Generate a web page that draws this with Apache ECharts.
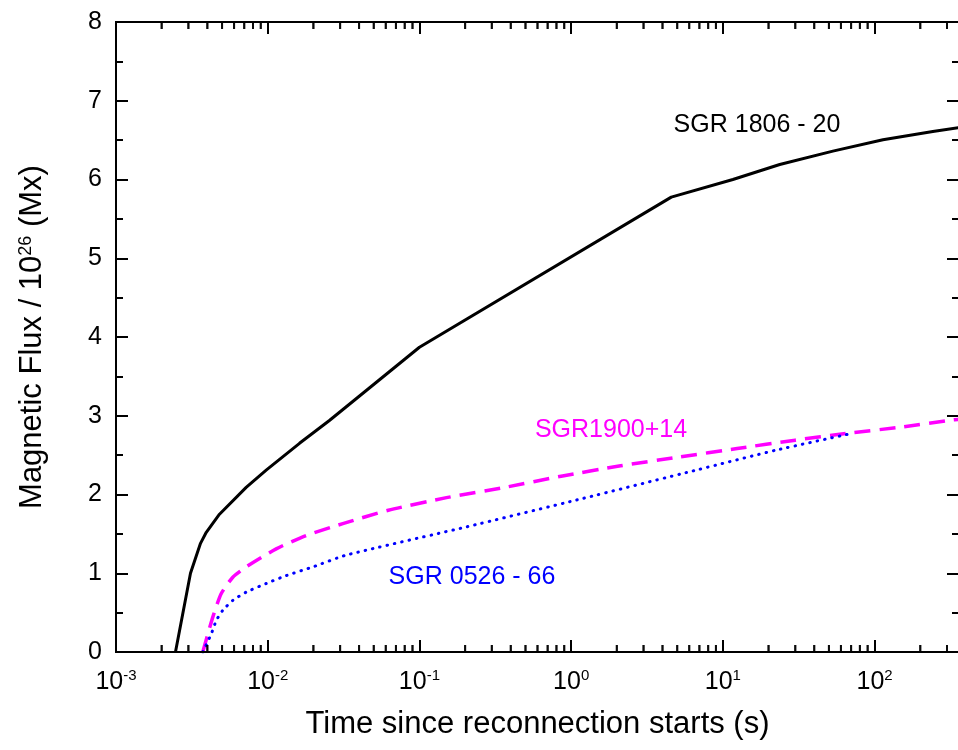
<!DOCTYPE html>
<html><head><meta charset="utf-8">
<script src="https://cdn.jsdelivr.net/npm/echarts@6/dist/echarts.min.js"></script>
<style>html,body{margin:0;padding:0;background:#fff}#c,#ov{position:absolute;left:0;top:0;width:958px;height:750px}#ov{z-index:2;pointer-events:none}#dbg{position:absolute;left:130px;top:30px;z-index:5;font:11px monospace;color:red;white-space:pre}</style>
</head><body><div id="c"></div><div id="ov"></div><div id="dbg"></div>
<script>
const dbg = [];
window.onerror = function (m, s, l, c, e) { dbg.push('ONERR ' + m + ' ' + (e && e.stack ? e.stack.slice(0, 200) : '')); document.getElementById('dbg').textContent = dbg.join('\n'); };
// ---- data (time in s, magnetic flux in 1e26 Mx) ----
const sgr1806Time = [0.002466, 0.003097, 0.00338, 0.003606, 0.003936, 0.00481, 0.00721, 0.00977, 0.0162, 0.0255, 0.1, 4.57, 11.64, 23.7, 53.1, 113.5, 242, 360];
const sgr1806Flux = [0, 1.0, 1.22, 1.38, 1.52, 1.75, 2.09, 2.31, 2.65, 2.94, 3.87, 5.776, 6.0, 6.19, 6.36, 6.505, 6.61, 6.66];

const sgr1900Time = [0.003733, 0.004345, 0.004932, 0.005888, 0.007211, 0.011376, 0.017947, 0.031261, 0.0624, 0.1507, 0.364, 0.877, 2.118, 5.14, 12.42, 30.0, 64.4, 155.2, 316, 360];
const sgr1900Flux = [0, 0.443, 0.74, 0.95, 1.08, 1.31, 1.48, 1.63, 1.80, 1.96, 2.09, 2.235, 2.365, 2.475, 2.584, 2.69, 2.775, 2.859, 2.944, 2.955];

const sgr0526Time = [0.003733, 0.004246, 0.004581, 0.005058, 0.005888, 0.007211, 0.009772, 0.013243, 0.019815, 0.032885, 0.2023, 1.183, 6.90, 22.39, 70.5];
const sgr0526Flux = [0, 0.23, 0.40, 0.53, 0.655, 0.76, 0.87, 0.97, 1.08, 1.23, 1.587, 1.948, 2.317, 2.563, 2.775];

const seriesNames = ['SGR 1806 - 20', 'SGR1900+14', 'SGR 0526 - 66'];
const xMajorTicks = [0.001, 0.01, 0.1, 1, 10, 100];
const xMin = 0.001, xMax = 360;
const yTicks = [0, 1, 2, 3, 4, 5, 6, 7, 8];

const xMinorTicks = [];
xMajorTicks.forEach(function (d) {
  for (let m = 2; m <= 9; m++) {
    const v = +(m * d).toPrecision(6);
    if (v <= xMax) xMinorTicks.push(v);
  }
});

function zip(a, b) { return a.map(function (v, i) { return [v, b[i]]; }); }

const FONT = 'Liberation Sans, Arial, sans-serif';
const yMin = yTicks[0], yMax = yTicks[yTicks.length - 1];
const GRID = { left: 116, top: 22, width: 843, height: 630, outerBoundsMode: 'none', containLabel: false };

function xAxisCfg(pos, withLabels) {
  const ax = {
    type: 'log', position: pos, min: xMin, max: xMax,
    axisLine: { show: true, onZero: false, lineStyle: { color: '#000', width: 2 } },
    axisTick: { show: true, inside: true, length: 12, lineStyle: { color: '#000', width: 2 } },
    axisLabel: { show: false },
    splitLine: { show: false }
  };
  if (withLabels) {
    ax.axisLabel = {
      show: true, customValues: xMajorTicks, margin: 16,
      formatter: function (v) {
        const e = Math.log10(v);
        if (Math.abs(e - Math.round(e)) > 1e-6) return '';
        return '{a|10}{b|' + Math.round(e) + '}';
      },
      rich: {
        a: { fontSize: 25, fontFamily: FONT, color: '#000', lineHeight: 28 },
        b: { fontSize: 15, fontFamily: FONT, color: '#000', verticalAlign: 'top', lineHeight: 14 }
      }
    };
    ax.name = 'Time since reconnection starts (s)';
    ax.nameLocation = 'middle';
    ax.nameGap = 57;
    ax.nameTextStyle = { fontSize: 31, fontFamily: FONT, color: '#000' };
  }
  return ax;
}

function yAxisCfg(pos, withLabels) {
  const ax = {
    type: 'value', position: pos, min: yMin, max: yMax, interval: 1,
    axisLine: { show: true, onZero: false, lineStyle: { color: '#000', width: 2 } },
    axisTick: { show: true, inside: true, length: 12, lineStyle: { color: '#000', width: 2 } },
    minorTick: { show: true, splitNumber: 2, length: 7, lineStyle: { color: '#000', width: 2 } },
    axisLabel: { show: withLabels, fontSize: 25, fontFamily: FONT, color: '#000', margin: 14 },
    splitLine: { show: false }, minorSplitLine: { show: false }
  };
  if (withLabels) {
    ax.name = 'Magnetic Flux / 10{s|26} (Mx)';
    ax.nameLocation = 'middle';
    ax.nameGap = 68;
    ax.nameTextStyle = { fontSize: 31, fontFamily: FONT, color: '#000',
      rich: { s: { fontSize: 18, fontFamily: FONT, color: '#000', verticalAlign: 'top', lineHeight: 16 } } };
  }
  return ax;
}

function minorTickSeries(yVal, offY) {
  return {
    type: 'scatter', silent: true, clip: false, z: 5,
    data: xMinorTicks.map(function (t) { return [t, yVal]; }),
    symbol: 'rect', symbolSize: [2, 7], symbolOffset: [0, offY],
    itemStyle: { color: '#000' }
  };
}

let chart, ov;
try {
  chart = echarts.init(document.getElementById('c'));
  chart.setOption({
    animation: false,
    backgroundColor: '#fff',
    grid: Object.assign({}, GRID),
    xAxis: [ xAxisCfg('bottom', true), xAxisCfg('top', false) ],
    yAxis: [ yAxisCfg('left', true), yAxisCfg('right', false) ],
    series: [
      { name: seriesNames[0], type: 'line', data: zip(sgr1806Time, sgr1806Flux),
        showSymbol: false, symbol: 'none', smooth: false,
        lineStyle: { color: '#000', width: 3 } },
      { name: seriesNames[1], type: 'line', data: zip(sgr1900Time, sgr1900Flux),
        showSymbol: false, symbol: 'none', smooth: 0.2,
        lineStyle: { color: '#ff00ff', width: 3.5, type: [16, 9] } },
      { name: seriesNames[2], type: 'line', data: zip(sgr0526Time, sgr0526Flux),
        showSymbol: false, symbol: 'none', smooth: 0.2,
        lineStyle: { color: '#0000ff', width: 3, type: [0.5, 7], cap: 'round' } },
      minorTickSeries(yMin, -3.5),
      minorTickSeries(yMax, 3.5)
    ],
    graphic: [
      { type: 'text', x: 757, y: 125, style: { text: seriesNames[0], fontSize: 25, fontFamily: FONT, fill: '#000', align: 'center', verticalAlign: 'middle' } },
      { type: 'text', x: 611, y: 430, style: { text: seriesNames[1], fontSize: 25, fontFamily: FONT, fill: '#ff00ff', align: 'center', verticalAlign: 'middle' } },
      { type: 'text', x: 472, y: 577, style: { text: seriesNames[2], fontSize: 25, fontFamily: FONT, fill: '#0000ff', align: 'center', verticalAlign: 'middle' } }
    ]
  });
  dbg.push('main n=' + chart.getZr().storage.getDisplayList(true).length);
} catch (e) { dbg.push('MAIN ' + e.message + ' ' + (e.stack || '').slice(0, 300)); }

try {
  ov = echarts.init(document.getElementById('ov'));
  ov.setOption({
    animation: false,
    grid: Object.assign({}, GRID),
    xAxis: [ xAxisCfg('bottom', false), xAxisCfg('top', false) ],
    yAxis: [ yAxisCfg('left', false), yAxisCfg('right', false) ],
    series: [ minorTickSeries(yMin, -3.5), minorTickSeries(yMax, 3.5) ]
  });
  dbg.push('ov n=' + ov.getZr().storage.getDisplayList(true).length);
} catch (e) { dbg.push('OV ' + e.message + ' ' + (e.stack || '').slice(0, 300)); }
if (dbg.join('').indexOf('MAIN') >= 0 || dbg.join('').indexOf('OV') >= 0 || dbg.join('').indexOf('ONERR') >= 0) {
  document.getElementById('dbg').textContent = dbg.join('\n');
}
</script>
</body></html>
